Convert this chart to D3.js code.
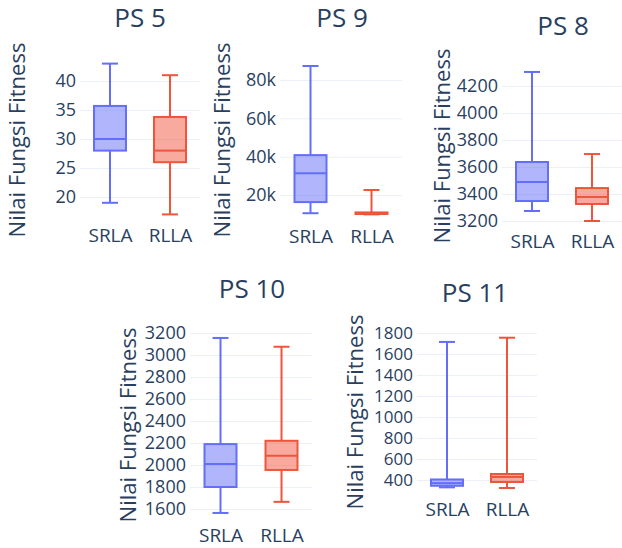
<!DOCTYPE html>
<html>
<head>
<meta charset="utf-8">
<script src="https://cdn.jsdelivr.net/npm/d3@7"></script>
<style>
  html, body { margin: 0; padding: 0; background: #fff; }
  svg { display: block; font-family: "Open Sans", sans-serif; }
</style>
</head>
<body>
<svg id="chart" width="622" height="548"></svg>
<script>
// Algorithms compared in every panel
const groups = ["SRLA", "RLLA"];
const panelTitles = ["PS 5", "PS 9", "PS 8", "PS 10", "PS 11"];
const yTitle = "Nilai Fungsi Fitness";

// Five-number summaries: [min, q1, median, q3, max]
const ps5Srla  = [19, 28, 30, 35.7, 43];
const ps5Rlla  = [17, 26, 28, 33.8, 41];
const ps9Srla  = [10500, 16300, 31400, 40800, 87300];
const ps9Rlla  = [9900, 10100, 10400, 10900, 22600];
const ps8Srla  = [3274, 3348, 3489, 3637, 4304];
const ps8Rlla  = [3200, 3326, 3378, 3444, 3696];
const ps10Srla = [1564, 1800, 2010, 2190, 3155];
const ps10Rlla = [1665, 1955, 2085, 2220, 3075];
const ps11Srla = [330, 345, 370, 405, 1715];
const ps11Rlla = [324, 381, 429, 457, 1755];

// Tick values for each panel's y axis
const ps5Ticks  = [20, 25, 30, 35, 40];
const ps9Ticks  = [20000, 40000, 60000, 80000];
const ps8Ticks  = [3200, 3400, 3600, 3800, 4000, 4200];
const ps10Ticks = [1600, 1800, 2000, 2200, 2400, 2600, 2800, 3000, 3200];
const ps11Ticks = [400, 600, 800, 1000, 1200, 1400, 1600, 1800];

const panelStats = [[ps5Srla, ps5Rlla], [ps9Srla, ps9Rlla], [ps8Srla, ps8Rlla],
                    [ps10Srla, ps10Rlla], [ps11Srla, ps11Rlla]];
const panelTicks = [ps5Ticks, ps9Ticks, ps8Ticks, ps10Ticks, ps11Ticks];

// Page geometry of each panel: plot x-extent, calibration of the y scale
// (two tick values and their pixel rows), title and label placement.
const layout = [
  { x0: 80,  x1: 200, yv: [20, 40],       yp: [197, 81],  titleX: 140, titleY: 27, axX: 25,  axY: 140, catY: 242, tickFont: 18 },
  { x0: 280, x1: 402, yv: [20000, 80000], yp: [195, 80],  titleX: 342, titleY: 27, axX: 230, axY: 140, catY: 243, tickFont: 18 },
  { x0: 502, x1: 622, yv: [3200, 4200],   yp: [221, 86],  titleX: 563, titleY: 35, axX: 450, axY: 146, catY: 248, tickFont: 18 },
  { x0: 190, x1: 312, yv: [1600, 3200],   yp: [509, 333], titleX: 252, titleY: 298, axX: 136, axY: 425, catY: 542, tickFont: 18 },
  { x0: 417, x1: 537, yv: [400, 1800],    yp: [480, 333], titleX: 475, titleY: 302, axX: 363, axY: 412, catY: 516, tickFont: 17 }
];

const colors = { SRLA: "#636efa", RLLA: "#ef553b" };
const textColor = "#2a3f5f";
const gridColor = "#ebf0f8";
const boxWidth = 32;
const fontCat = 19, fontTitle = 26, fontAxis = 22;

const svg = d3.select("#chart");

function kFormat(v) {
  return v >= 1000 && v % 1000 === 0 ? (v / 1000) + "k" : String(v);
}

panelStats.forEach((stats, i) => {
  const L = layout[i];
  const g = svg.append("g");

  const y = d3.scaleLinear().domain(L.yv).range(L.yp);
  const x = d3.scalePoint().domain(groups).range([L.x0, L.x1]).padding(0.5);

  // horizontal grid lines + tick labels
  const yAxis = d3.axisLeft(y)
    .tickValues(panelTicks[i])
    .tickSize(-(L.x1 - L.x0))
    .tickPadding(4)
    .tickFormat(i === 1 ? kFormat : d3.format("d"));
  const ay = g.append("g").attr("transform", `translate(${L.x0},0)`).call(yAxis);
  ay.select(".domain").remove();
  ay.selectAll(".tick line").attr("stroke", gridColor).attr("stroke-width", 1);
  ay.selectAll(".tick text")
    .attr("fill", textColor)
    .attr("font-size", L.tickFont)
    .attr("font-family", "Open Sans, sans-serif");

  // category labels
  const xAxis = d3.axisBottom(x).tickSize(0).tickPadding(0);
  const ax = g.append("g").attr("transform", `translate(0,${L.catY})`).call(xAxis);
  ax.select(".domain").remove();
  ax.selectAll(".tick text")
    .attr("dy", 0)
    .attr("fill", textColor)
    .attr("font-size", fontCat)
    .attr("font-family", "Open Sans, sans-serif");

  // boxes
  groups.forEach((name, j) => {
    const [mn, q1, med, q3, mx] = stats[j];
    const cx = x(name);
    const c = colors[name];
    const bg = g.append("g")
      .attr("stroke", c)
      .attr("stroke-width", 2)
      .attr("fill", "none");
    // whiskers
    bg.append("line").attr("x1", cx).attr("x2", cx).attr("y1", y(q3)).attr("y2", y(mx));
    bg.append("line").attr("x1", cx).attr("x2", cx).attr("y1", y(q1)).attr("y2", y(mn));
    // caps
    bg.append("line").attr("x1", cx - boxWidth / 4).attr("x2", cx + boxWidth / 4).attr("y1", y(mx)).attr("y2", y(mx));
    bg.append("line").attr("x1", cx - boxWidth / 4).attr("x2", cx + boxWidth / 4).attr("y1", y(mn)).attr("y2", y(mn));
    // box body
    bg.append("rect")
      .attr("x", cx - boxWidth / 2)
      .attr("y", y(q3))
      .attr("width", boxWidth)
      .attr("height", y(q1) - y(q3))
      .attr("fill", c)
      .attr("fill-opacity", 0.5);
    // median
    bg.append("line").attr("x1", cx - boxWidth / 2).attr("x2", cx + boxWidth / 2).attr("y1", y(med)).attr("y2", y(med));
  });

  // panel title
  g.append("text")
    .attr("x", L.titleX)
    .attr("y", L.titleY)
    .attr("text-anchor", "middle")
    .attr("fill", textColor)
    .attr("font-size", fontTitle)
    .text(panelTitles[i]);

  // y axis title
  g.append("text")
    .attr("transform", `translate(${L.axX},${L.axY}) rotate(-90)`)
    .attr("text-anchor", "middle")
    .attr("fill", textColor)
    .attr("font-size", fontAxis)
    .text(yTitle);
});
</script>
</body>
</html>
